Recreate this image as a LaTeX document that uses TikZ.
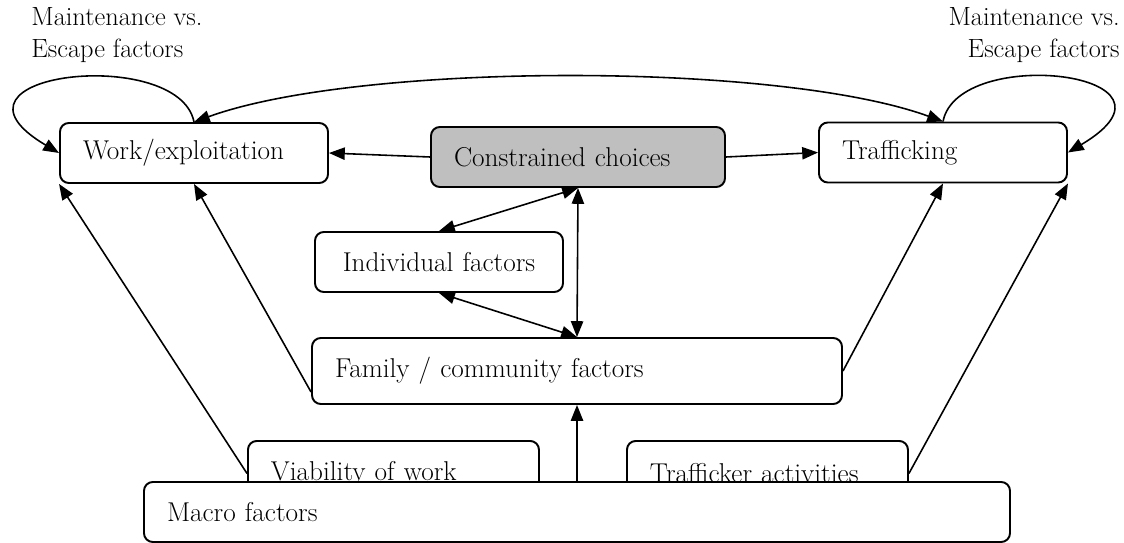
\documentclass[tikz,border=0pt]{standalone}
\usepackage{fontspec}
\setmainfont{Latin Modern Roman}
\usetikzlibrary{arrows.meta}
\begin{document}
\begin{tikzpicture}[font=\fontsize{15.5}{18.5}\selectfont,
	box/.style={draw,line width=1.1pt,rounded corners=5pt,fill=white,
		minimum height=1.2cm,inner xsep=0.46cm,align=left},
	link/.style={line width=0.9pt,-{Triangle[length=9pt,width=7pt]}},
	dlink/.style={line width=0.9pt,{Triangle[length=9pt,width=7pt]}-{Triangle[length=9pt,width=7pt]}}]
	\useasboundingbox(0,0)rectangle(22.48,-10.86);
	% boxes
	\node[box,text width=4.44cm](work)at(3.88,-3.06){Work/exploitation};
	\node[box,text width=4.96cm,fill=gray!50](choice)at(11.56,-3.14){Constrained choices};
	\node[box,text width=4.04cm](traf)at(18.86,-3.05){Trafficking};
	\node[box,text width=4.4cm,inner xsep=0.28cm,align=center](indiv)at(8.78,-5.24){Individual factors};
	\node[box,text width=9.68cm,minimum height=1.32cm](family)at(11.54,-7.42){Family / community factors};
	\node[box,text width=4.9cm,minimum height=1.3cm,anchor=north west](viab)at(4.94,-8.8){Viability of work};
	\node[box,text width=4.7cm,minimum height=1.3cm,anchor=north west](trafact)at(12.52,-8.8){Trafficker activities};
	\node[box,text width=16.4cm](macro)at(11.54,-10.24){Macro factors};
	\node[align=left,anchor=north west,inner sep=0pt,font=\fontsize{15}{18.5}\selectfont](mainl)at(0.62,-0.14){Maintenance vs.\\Escape factors};
	\node[align=right,anchor=north east,inner sep=0pt,font=\fontsize{15}{18.5}\selectfont](mainr)at(22.4,-0.14){Maintenance vs.\\Escape factors};
	% connectors
	\draw[link](choice.west)--(work.east);
	\draw[link](choice.east)--(traf.west);
	\draw[dlink](work.north)to[out=20,in=160,looseness=0.6](traf.north);
	\draw[link](work.north)..controls +(-0.3,1.55) and +(-2.7,1.6)..(work.west);
	\draw[link](traf.north)..controls +(0.3,1.55) and +(2.7,1.6)..(traf.east);
	\draw[dlink](choice.south)--(indiv.north);
	\draw[dlink](choice.south)--(family.north);
	\draw[dlink](indiv.south)--(family.north);
	\draw[link]([yshift=-0.42cm]family.west)--(work.south);
	\draw[link](family.east)--(traf.south);
	\draw[link](macro.north)--(family.south);
	\draw[link](viab.west)--(work.south west);
	\draw[link](trafact.east)--(traf.south east);
\end{tikzpicture}
\end{document}
